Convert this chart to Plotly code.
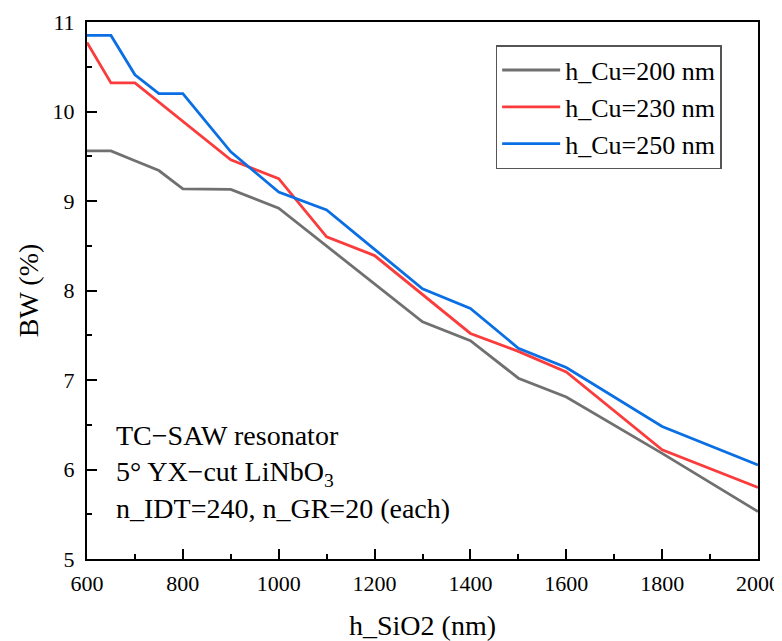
import plotly.graph_objects as go

h_sio2 = [600, 650, 700, 750, 800, 900, 1000, 1100, 1200, 1300, 1400, 1500, 1600, 1800, 2000]
bw_cu200 = [9.56, 9.56, 9.45, 9.34, 9.135, 9.13, 8.92, 8.50, 8.07, 7.65, 7.44, 7.02, 6.81, 6.18, 5.53]
bw_cu230 = [10.77, 10.32, 10.32, 10.105, 9.89, 9.46, 9.25, 8.60, 8.39, 7.95, 7.52, 7.32, 7.09, 6.22, 5.80]
bw_cu250 = [10.85, 10.85, 10.41, 10.20, 10.20, 9.55, 9.10, 8.90, 8.46, 8.02, 7.80, 7.355, 7.14, 6.48, 6.05]

series_names = ["h_Cu=200 nm", "h_Cu=230 nm", "h_Cu=250 nm"]
series_colors = ["#707070", "#fa3c3c", "#0b6fe4"]

x_ticks = [600, 800, 1000, 1200, 1400, 1600, 1800, 2000]
y_ticks = [5, 6, 7, 8, 9, 10, 11]
top_ticks = [600 + 140 * k for k in range(11)]
right_ticks = [round(5 + 0.6 * k, 2) for k in range(11)]

FONT = "'Liberation Serif', 'Times New Roman', serif"
tick_font = dict(family=FONT, size=22, color="black")
big_font = dict(family=FONT, size=28, color="black")

fig = go.Figure()
for name, ys, col in zip(series_names, [bw_cu200, bw_cu230, bw_cu250], series_colors):
    fig.add_trace(go.Scatter(x=h_sio2, y=ys, mode="lines", name=name,
                             line=dict(color=col, width=2.8)))

# page body has an 8px default margin, so the figure is 8px smaller with 8px less margin on the left/top
fig.update_layout(
    width=774, height=633,
    margin=dict(l=79, r=24, t=14, b=82),
    paper_bgcolor="white", plot_bgcolor="white",
    font=dict(family=FONT, color="black", size=22),
    showlegend=True,
    legend=dict(x=0.609, y=0.957, xanchor="left", yanchor="top",
                bgcolor="white", bordercolor="#555555", borderwidth=1.5,
                font=dict(family=FONT, size=26, color="black"),
                itemwidth=58, tracegroupgap=0),
    xaxis=dict(range=[600, 2000], tickvals=x_ticks, ticks="inside", ticklen=10,
               tickwidth=2, tickcolor="black", showline=True, linecolor="black",
               linewidth=2, mirror=True, showgrid=False, zeroline=False,
               ticklabelstandoff=4, tickfont=tick_font, automargin=False,
               minor=dict(tickvals=[700, 900, 1100, 1300, 1500, 1700, 1900],
                          ticks="inside", ticklen=5, tickwidth=2, tickcolor="black"),
               title=dict(text="h_SiO2 (nm)", font=big_font, standoff=30)),
    yaxis=dict(range=[5, 11], tickvals=y_ticks, ticks="inside", ticklen=10,
               tickwidth=2, tickcolor="black", showline=True, linecolor="black",
               linewidth=2, mirror=True, showgrid=False, zeroline=False,
               ticklabelstandoff=6, tickfont=tick_font, automargin=False,
               minor=dict(tickvals=[5.5, 6.5, 7.5, 8.5, 9.5, 10.5],
                          ticks="inside", ticklen=5, tickwidth=2, tickcolor="black"),
               title=dict(text="BW (%)", font=big_font, standoff=6)),
    xaxis2=dict(range=[600, 2000], overlaying="x", anchor="y", side="top",
                tickvals=top_ticks, ticks="inside", ticklen=10, tickwidth=2,
                tickcolor="black", showticklabels=False, showgrid=False,
                zeroline=False, showline=False, automargin=False),
    yaxis2=dict(range=[5, 11], overlaying="y", anchor="x", side="right",
                tickvals=right_ticks, ticks="inside", ticklen=10, tickwidth=2,
                tickcolor="black", showticklabels=False, showgrid=False,
                zeroline=False, showline=False, automargin=False),
)

fig.add_annotation(
    xref="paper", yref="paper", x=0.0405, y=0.2625, xanchor="left", yanchor="top",
    align="left", showarrow=False,
    text="TC\u2212SAW resonator<br>5\u00b0 YX\u2212cut LiNbO<sub>3</sub><br>n_IDT=240, n_GR=20 (each)",
    font=big_font,
)

fig.write_html("out.html")
